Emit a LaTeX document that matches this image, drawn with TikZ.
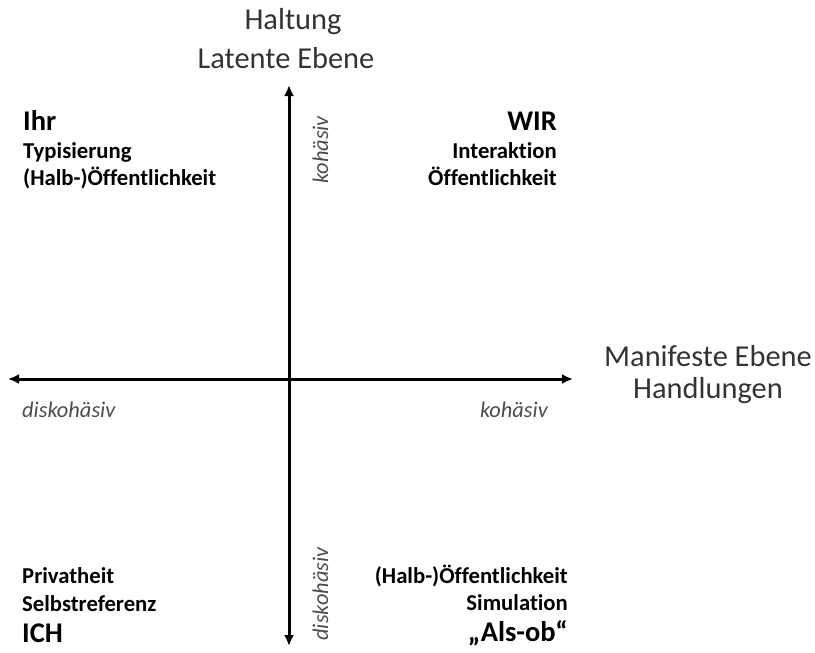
\documentclass[tikz,border=0pt]{standalone}
\usepackage{fontspec}
\setmainfont{Carlito}[RawFeature=-liga]
\usetikzlibrary{arrows.meta}
\tikzset{
  axis/.style={line width=3pt, -{Latex[length=11pt,width=10pt]}},
  title/.style={font=\fontsize{30.4}{32}\selectfont, text=black!80, inner sep=0pt},
  big/.style={font=\fontsize{28.5}{30}\selectfont\bfseries, inner sep=0pt},
  lab/.style={font=\fontsize{22.7}{24}\selectfont\bfseries, inner sep=0pt},
  ital/.style={font=\fontsize{22.4}{24}\selectfont\itshape, text=black!70, inner sep=0pt}
}
\begin{document}
\begin{tikzpicture}[x=1pt,y=-1pt]
\useasboundingbox (0,0) rectangle (815,653);
\coordinate (c) at (289,379);
\coordinate (top) at (289,85);
\coordinate (bot) at (289,646);
\coordinate (left) at (8,379);
\coordinate (right) at (573,379);
\draw[axis] (c) -- (top);
\draw[axis] (c) -- (bot);
\draw[axis] (c) -- (left);
\draw[axis] (c) -- (right);
% axis titles
\node[title, anchor=base] (halt) at (293,30) {Haltung};
\node[title, anchor=base] (lat) at (286,68) {Latente Ebene};
\node[title, anchor=base] (man) at (708,366) {Manifeste Ebene};
\node[title, anchor=base] (hand) at (708,398) {Handlungen};
% axis labels
\node[ital, rotate=90, anchor=base] (k1) at (328,150) {kohäsiv};
\node[ital, rotate=90, anchor=base] (d1) at (328,594) {diskohäsiv};
\node[ital, anchor=base west] (d2) at (22,417) {diskohäsiv};
\node[ital, anchor=base east] (k2) at (548,417) {kohäsiv};
% top left
\node[big, anchor=base west] (ihr) at (23,130) {Ihr};
\node[lab, anchor=base west] (typ) at (23,158) {Typisierung};
\node[lab, anchor=base west] (ho1) at (23,185) {(Halb-)Öffentlichkeit};
% top right
\node[big, anchor=base east] (wir) at (557,130) {WIR};
\node[lab, anchor=base east] (int) at (557,158) {Interaktion};
\node[lab, anchor=base east] (oef) at (557,185) {Öffentlichkeit};
% bottom left
\node[lab, anchor=base west] (priv) at (22,583) {Privatheit};
\node[lab, anchor=base west] (selb) at (22,611) {Selbstreferenz};
\node[big, anchor=base west] (ich) at (22,642) {ICH};
% bottom right
\node[lab, anchor=base east] (ho2) at (568,583) {(Halb-)Öffentlichkeit};
\node[lab, anchor=base east] (sim) at (568,610) {Simulation};
\node[big, anchor=base east] (als) at (568,641) {„Als-ob“};
\end{tikzpicture}
\end{document}
